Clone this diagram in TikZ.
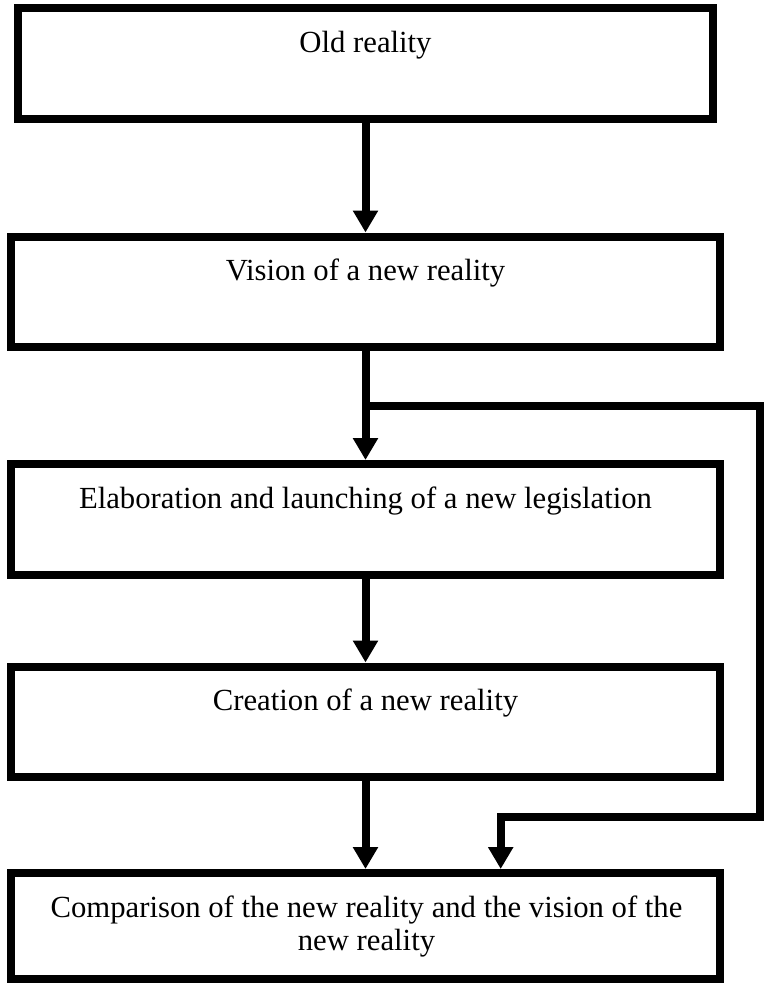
\documentclass[tikz,border=0pt]{standalone}
\usepackage{fontspec}
\setmainfont{Liberation Serif}
\usetikzlibrary{arrows.meta}
\begin{document}
\begin{tikzpicture}[x=1pt,y=-1pt,
  box/.style={draw=black, line width=8pt, rectangle, inner sep=0pt},
  lbl/.style={anchor=base, font=\fontsize{30.7}{33}\selectfont, align=center, inner sep=0pt},
  conn/.style={line width=8pt, line join=miter, -{Triangle[length=22pt,width=24pt]}},
  plain/.style={line width=8pt, line join=miter}]
\useasboundingbox (0,0) rectangle (764,983);
\fill[white] (0,0) rectangle (764,983);
% boxes
\node[box, minimum width=695pt, minimum height=111pt] (b1) at (365.5,63.5) {};
\node[box, minimum width=709pt, minimum height=110.5pt] (b2) at (365.5,291.75) {};
\node[box, minimum width=709pt, minimum height=111pt] (b3) at (365.5,519.5) {};
\node[box, minimum width=709pt, minimum height=110.5pt] (b4) at (365.5,721.75) {};
\node[box, minimum width=709pt, minimum height=106pt] (b5) at (365.5,926) {};
% texts
\node[lbl] (t1) at (365.5,52) {Old reality};
\node[lbl] (t2) at (365.5,280) {Vision of a new reality};
\node[lbl] (t3) at (365.5,508) {Elaboration and launching of a new legislation};
\node[lbl] (t4) at (365.5,710) {Creation of a new reality};
\node[lbl] (t5) at (366.5,950) {Comparison of the new reality and the vision of the\\new reality};
% connectors
\draw[conn] (b1.south) -- (b2.north);
\draw[conn] (b2.south) -- (b3.north);
\draw[conn] (b3.south) -- (b4.north);
\draw[conn] (b4.south) -- (b5.north);
% feedback branch
\coordinate (j) at (365.5,406);
\coordinate (r1) at (760,406);
\coordinate (r2) at (760,816.7);
\coordinate (r3) at (500.7,816.7);
\draw[conn] (j) -- (r1) -- (r2) -- (r3) -- (r3 |- b5.north);
\end{tikzpicture}
\end{document}
